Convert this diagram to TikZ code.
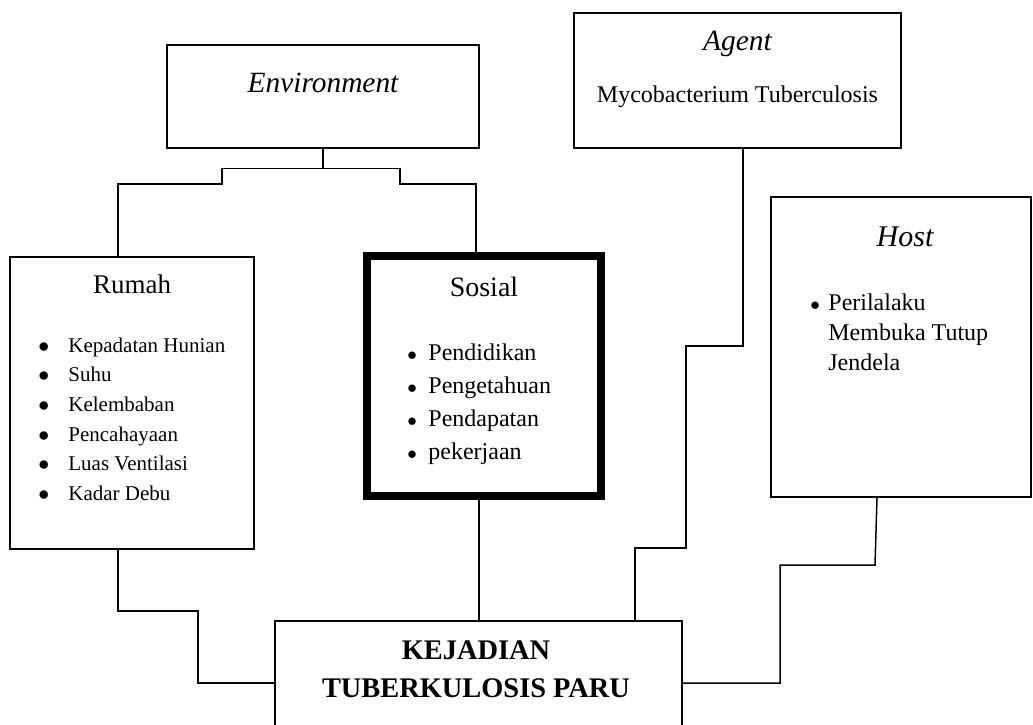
\documentclass[tikz,border=0pt]{standalone}
\usepackage{fontspec}
\setmainfont{Liberation Serif}
\usetikzlibrary{positioning,calc}

\begin{document}
\begin{tikzpicture}[x=0.5pt, y=-0.5pt,
    box/.style={rectangle, draw, line width=0.7pt, inner sep=0pt},
    heavybox/.style={rectangle, draw, line width=4pt, inner sep=0pt},
    title/.style={font=\fontsize{14.7}{17}\selectfont\itshape},
    head/.style={font=\fontsize{13.5}{16}\selectfont},
    item/.style={anchor=base west, inner sep=0pt},
    link/.style={line width=0.75pt}
]
    \useasboundingbox (0,0) rectangle (1033,724);

    % Environment
    \node[box, minimum width=156pt, minimum height=51.5pt] (env) at (323,96.5) {};
    \node[title] (envT) at (323,83) {Environment};

    % Agent
    \node[box, minimum width=163.5pt, minimum height=67.5pt] (agent) at (737.5,80.3) {};
    \node[title] (agentT) at (737.5,44) {Agent};
    \node[font=\fontsize{12}{14}\selectfont] (agentX) at (737.5,97) {Mycobacterium Tuberculosis};

    % Host
    \node[box, minimum width=130pt, minimum height=150pt] (host) at (901,347) {};
    \node[title, font=\fontsize{15}{17}\selectfont\itshape] (hostT) at (905,237) {Host};
    \node[item, font=\fontsize{12}{14}\selectfont] (host1) at (810,310)
        {\makebox[9pt][l]{\scalebox{0.8}{$\bullet$}}Perilalaku};
    \node[item, font=\fontsize{12}{14}\selectfont] (host2) at (828,340) {Membuka Tutup};
    \node[item, font=\fontsize{12}{14}\selectfont] (host3) at (828,370) {Jendela};

    % Rumah
    \node[box, minimum width=122pt, minimum height=146pt] (rumah) at (132,403) {};
    \node[head] (rumahT) at (132,284) {Rumah};
    \foreach \t [count=\i] in {Kepadatan Hunian, Suhu, Kelembaban, Pencahayaan,
        Luas Ventilasi, Kadar Debu}
        \node[item, font=\fontsize{10.5}{12}\selectfont] (rumah\i) at (38,{352+29.7*(\i-1)})
            {\makebox[15pt][l]{$\bullet$}\t};

    % Sosial
    \node[heavybox, minimum width=117pt, minimum height=120pt] (sosial) at (484,376) {};
    \node[head, font=\fontsize{14}{16}\selectfont] (sosialT) at (484,287) {Sosial};
    \foreach \t [count=\i] in {Pendidikan, Pengetahuan, Pendapatan, pekerjaan}
        \node[item, font=\fontsize{12}{14}\selectfont] (sosial\i) at (407,{360+33.3*(\i-1)})
            {\makebox[10.5pt][l]{\scalebox{0.8}{$\bullet$}}\t};

    % Kejadian
    \node[box, minimum width=203.5pt, minimum height=59.5pt] (tb) at (478.5,680.5) {};
    \node[align=center, font=\fontsize{14.2}{19}\selectfont\bfseries] (tbT) at (476,669)
        {KEJADIAN\\TUBERKULOSIS PARU};

    % Connectors
    \draw[link] (env.south) -- ++(0,20) -| (222,184) -| ([xshift=-7pt]rumah.north);
    \draw[link] (env.south) -- ++(0,20) -| (400,184) -| ([xshift=-4pt]sosial.north);
    \draw[link] ([xshift=2.75pt]agent.south) |- (686,346) |- (635,548) -- ([xshift=78.25pt]tb.north);
    \draw[link] ([xshift=-12pt]host.south) -- (875,565) -| (780,683) -- ([yshift=-1.25pt]tb.east);
    \draw[link] ([xshift=-7pt]rumah.south) |- (198,611) |- ([yshift=-1.25pt]tb.west);
    \draw[link] ([xshift=-2.5pt]sosial.south) -- ([xshift=0.25pt]tb.north);
\end{tikzpicture}
\end{document}
